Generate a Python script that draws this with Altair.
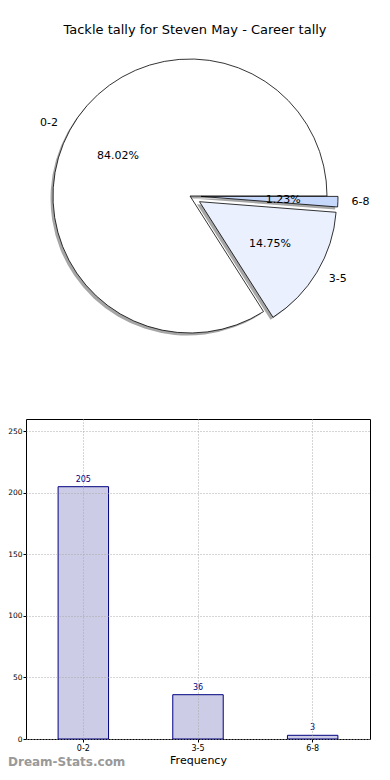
import math
import altair as alt
import pandas as pd

# ---- data ----
categories = ["0-2", "3-5", "6-8"]
counts = [205, 36, 3]
pie_colors = ["#ffffff", "#eaf0fe", "#c6d8fb"]
pie_order = [2, 1, 0]          # clockwise drawing order starting at 3 o'clock
y_ticks = [0, 50, 100, 150, 200, 250]
title_text = "Tackle tally for Steven May - Career tally"
watermark = "Dream-Stats.com"

df = pd.DataFrame({"cat": categories, "count": counts,
                   "color": pie_colors, "ord": pie_order})

# ---- layout (style) ----
PL, PT, PR, PB = 18, 411, 12, 29      # padding around bar plot area
W, H = 344, 320
OX, OY = 8 + PL, 8 + PT               # page position of bar plot origin

# pie geometry in page pixels, converted to plot coordinates
CX, CY = 190 - OX, 196 - OY
R = 137
explode = {"0-2": (0, 0), "3-5": (9.5, 5.7), "6-8": (11, 0.4)}
label_align = {"0-2": "right", "3-5": "left", "6-8": "left"}
SHX, SHY = -2.5, 2.5

theta_scale = alt.Scale(domain=[0, 1], range=[math.pi / 2, math.pi / 2 + 2 * math.pi])

base = alt.Chart(df).transform_joinaggregate(
    total="sum(count)"
).transform_window(
    cum="sum(count)", sort=[alt.SortField("ord")], frame=[None, 0]
).transform_calculate(
    t0="(datum.cum - datum.count) / datum.total",
    t1="datum.cum / datum.total",
    tm="(datum.cum - datum.count / 2) / datum.total",
    pct="format(datum.count / datum.total * 100, '.2f') + '%'",
)

layers = []
for cat, col in zip(categories, pie_colors):
    dx, dy = explode[cat]
    sub = base.transform_filter(alt.datum.cat == cat)
    shadow = sub.mark_arc(outerRadius=R, fill="#a6a6a6", strokeWidth=0).encode(
        theta=alt.Theta("t0:Q", scale=theta_scale, stack=False),
        theta2="t1:Q",
        x=alt.value(CX + dx + SHX),
        y=alt.value(CY + dy + SHY),
    )
    wedge = sub.mark_arc(outerRadius=R, fill=col, stroke="black", strokeWidth=0.8).encode(
        theta=alt.Theta("t0:Q", scale=theta_scale, stack=False),
        theta2="t1:Q",
        x=alt.value(CX + dx),
        y=alt.value(CY + dy),
    )
    layers += [shadow, wedge]

for cat in categories:
    dx, dy = explode[cat]
    sub = base.transform_filter(alt.datum.cat == cat)
    lab = sub.mark_text(align=label_align[cat], baseline="middle", fontSize=11,
                        font="DejaVu Sans", color="black").encode(
        theta=alt.Theta("tm:Q", scale=theta_scale, stack=False),
        radius=alt.value(R * 1.1),
        text="cat:N",
        x=alt.value(CX + dx),
        y=alt.value(CY + dy),
    )
    pct = sub.mark_text(align="center", baseline="middle", fontSize=11,
                        font="DejaVu Sans", color="black").encode(
        theta=alt.Theta("tm:Q", scale=theta_scale, stack=False),
        radius=alt.value(R * 0.6),
        text="pct:N",
        x=alt.value(CX + dx),
        y=alt.value(CY + dy),
    )
    layers += [lab, pct]

title = alt.Chart(df).transform_filter(alt.datum.cat == categories[0]).mark_text(
    text=title_text, fontSize=13, font="DejaVu Sans", color="black",
    align="center", baseline="middle",
).encode(x=alt.value(195 - OX), y=alt.value(30 - OY))
layers.append(title)

# ---- bar chart ----
bar_base = alt.Chart(df).encode(
    x=alt.X("cat:N", sort=categories,
            scale=alt.Scale(paddingInner=0, paddingOuter=0),
            axis=alt.Axis(title="Frequency", labelAngle=0, bandPosition=0.5,
                          grid=True, gridDash=[1, 2], gridColor="#aaaaaa",
                          domain=False, tickSize=3, tickColor="black",
                          labelFontSize=8, labelColor="black", labelPadding=2,
                          titleFontSize=11, titleFontWeight="normal",
                          titleColor="black", titlePadding=2, zindex=1)),
)
bars = bar_base.mark_bar(width=alt.RelativeBandSize(0.44), fill="#ccccE6",
                         stroke="#000080", strokeWidth=1).encode(
    y=alt.Y("count:Q", scale=alt.Scale(domain=[0, 250]),
            axis=alt.Axis(title=None, values=y_ticks, grid=True, gridDash=[1, 2],
                          gridColor="#aaaaaa", domain=False, tickSize=3,
                          tickColor="black", labelFontSize=7.5, labelColor="black",
                          labelPadding=1, zindex=1)),
)
vals = bar_base.mark_text(dy=-7, color="#000080", fontSize=8,
                          font="DejaVu Sans").encode(
    y=alt.Y("count:Q"), text="count:Q"
)
wm = alt.Chart(df).transform_filter(alt.datum.cat == categories[0]).mark_text(
    text=watermark, fontSize=12, font="DejaVu Sans", color="#999999",
    align="left", baseline="middle", fontWeight="bold",
).encode(x=alt.value(8 - OX), y=alt.value(762 - OY))

chart = alt.layer(*layers, bars, vals, wm).properties(
    width=W, height=H,
    autosize=alt.AutoSizeParams(type="none"),
    padding={"left": PL, "top": PT, "right": PR, "bottom": PB},
    view=alt.ViewBackground(stroke="black", strokeWidth=1),
).configure(font="DejaVu Sans")

chart.save("out.html", embed_options={"renderer": "svg", "actions": False})
